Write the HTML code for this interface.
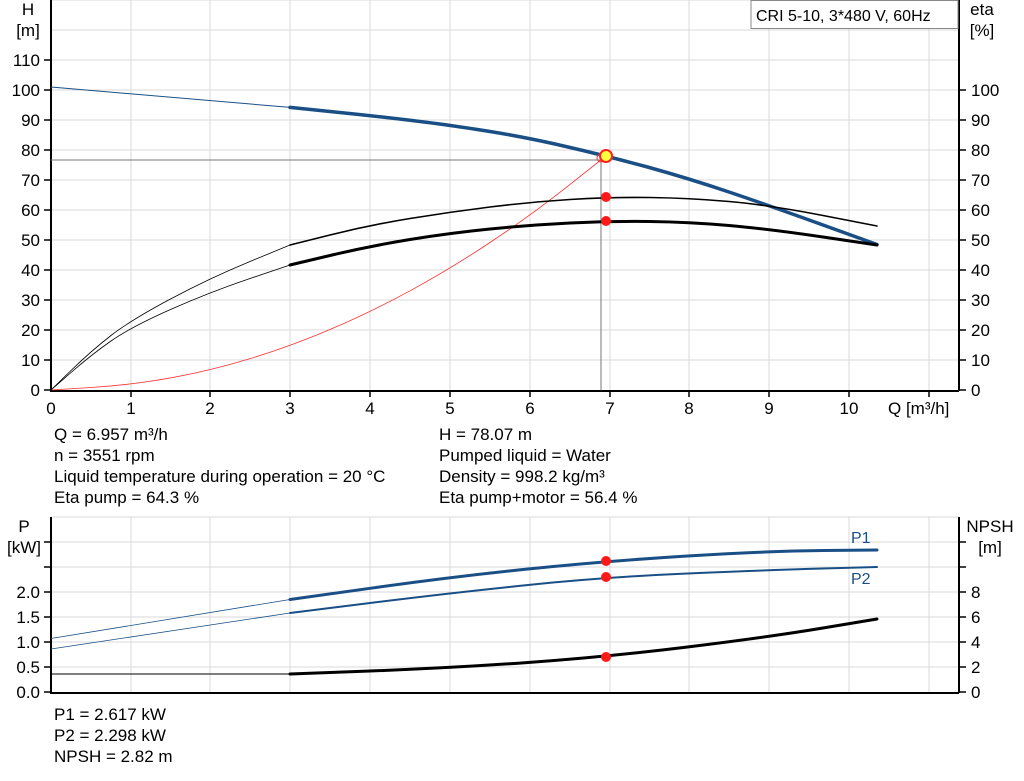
<!DOCTYPE html>
<html><head><style>
body{margin:0;background:#fff;}
svg{display:block;font-family:"Liberation Sans",sans-serif;}
</style></head><body>
<svg width="1024" height="781" viewBox="0 0 1024 781" xmlns="http://www.w3.org/2000/svg">
<g stroke="#d8d8d8" stroke-width="1" fill="none">
<path d="M131,0V390M210,0V390M290,0V390M370,0V390M450,0V390M530,0V390M610,0V390M689,0V390M769,0V390M849,0V390M929,0V390"/>
<path d="M51,0H959M51,30H959M51,60H959M51,90H959M51,120H959M51,150H959M51,180H959M51,210H959M51,240H959M51,270H959M51,300H959M51,330H959M51,360H959"/>
<path d="M131,517V692M210,517V692M290,517V692M370,517V692M450,517V692M530,517V692M610,517V692M689,517V692M769,517V692M849,517V692M929,517V692"/>
<path d="M51,517H959M51,542H959M51,567H959M51,592H959M51,617H959M51,642H959M51,667H959"/>
</g>
<g stroke="#000" stroke-width="2" fill="none">
<path d="M51,0V391H959M959,0V391"/>
<path d="M51,517V693H959M959,517V693"/>
</g>
<g stroke="#000" stroke-width="1.5">
<path d="M44,60H51M44,90H51M44,120H51M44,150H51M44,180H51M44,210H51M44,240H51M44,270H51M44,300H51M44,330H51M44,360H51M44,390H51"/>
<path d="M959,90H966M959,120H966M959,150H966M959,180H966M959,210H966M959,240H966M959,270H966M959,300H966M959,330H966M959,360H966M959,390H966"/>
<path d="M131,390V397M210,390V397M290,390V397M370,390V397M450,390V397M530,390V397M610,390V397M689,390V397M769,390V397M849,390V397M929,390V397"/>
<path d="M44,542H51M44,567H51M44,592H51M44,617H51M44,642H51M44,667H51M44,692H51"/>
<path d="M959,542H966M959,567H966M959,592H966M959,617H966M959,642H966M959,667H966M959,692H966"/>
</g>
<g font-size="17" fill="#000">
<g text-anchor="end">
<text x="40" y="66">110</text><text x="40" y="96">100</text><text x="40" y="126">90</text><text x="40" y="156">80</text><text x="40" y="186">70</text><text x="40" y="216">60</text><text x="40" y="246">50</text><text x="40" y="276">40</text><text x="40" y="306">30</text><text x="40" y="336">20</text><text x="40" y="366">10</text><text x="40" y="396">0</text>
<text x="40" y="598">2.0</text><text x="40" y="623">1.5</text><text x="40" y="648">1.0</text><text x="40" y="673">0.5</text><text x="40" y="698">0.0</text>
</g>
<g text-anchor="start">
<text x="971" y="96">100</text><text x="971" y="126">90</text><text x="971" y="156">80</text><text x="971" y="186">70</text><text x="971" y="216">60</text><text x="971" y="246">50</text><text x="971" y="276">40</text><text x="971" y="306">30</text><text x="971" y="336">20</text><text x="971" y="366">10</text><text x="971" y="396">0</text>
<text x="971" y="598">8</text><text x="971" y="623">6</text><text x="971" y="648">4</text><text x="971" y="673">2</text><text x="971" y="698">0</text>
</g>
<g text-anchor="middle">
<text x="51" y="414">0</text><text x="131" y="414">1</text><text x="210" y="414">2</text><text x="290" y="414">3</text><text x="370" y="414">4</text><text x="450" y="414">5</text><text x="530" y="414">6</text><text x="610" y="414">7</text><text x="689" y="414">8</text><text x="769" y="414">9</text><text x="849" y="414">10</text>
<text x="28" y="15">H</text><text x="28" y="36">[m]</text>
<text x="982" y="15">eta</text><text x="982" y="36">[%]</text>
<text x="24" y="532">P</text><text x="24" y="553">[kW]</text>
<text x="990" y="532">NPSH</text><text x="990" y="553">[m]</text>
</g>
<text x="888" y="414">Q [m³/h]</text>
<text x="851" y="543" fill="#1a4f86" font-size="16">P1</text>
<text x="851" y="584" fill="#1a4f86" font-size="16">P2</text>
<text x="54" y="440">Q = 6.957 m³/h</text>
<text x="54" y="461">n = 3551 rpm</text>
<text x="54" y="482">Liquid temperature during operation = 20 °C</text>
<text x="54" y="503">Eta pump = 64.3 %</text>
<text x="439" y="440">H = 78.07 m</text>
<text x="439" y="461">Pumped liquid = Water</text>
<text x="439" y="482">Density = 998.2 kg/m³</text>
<text x="439" y="503">Eta pump+motor = 56.4 %</text>
<text x="54" y="720">P1 = 2.617 kW</text>
<text x="54" y="741">P2 = 2.298 kW</text>
<text x="54" y="762">NPSH = 2.82 m</text>
</g>
<rect x="751" y="0.5" width="207" height="28" fill="#fff" stroke="#888"/>
<text x="756" y="21" font-size="16">CRI 5-10, 3*480 V, 60Hz</text>
<g fill="none" stroke-linejoin="round" stroke-linecap="round">
<path d="M51,160H601V390" stroke="#777" stroke-width="1"/>
<path stroke="#ff3030" stroke-width="0.8" d="M51,390 L91,387.5 Q131,385 171,377.8 Q211,370.6 250.5,358.5 Q290,346.5 330,329.5 Q370,312.6 410,290.8 Q450,269 490,242.5 Q530,216 567,186.8 L604,157.5"/>
<path stroke="#1a4f86" stroke-width="1" d="M51,87 L290,107.4"/>
<path stroke="#1a4f86" stroke-width="3.5" d="M290,107.4 L330,111.5 Q370,115.5 410,120.3 Q450,125 490,131.5 Q530,138 568,147 Q606,155.8 647.5,167 Q689,178.5 729,192 Q769,205.5 823,225 L877,244.5"/>
<path stroke="#000" stroke-width="0.8" d="M51,390 L71,370.5 Q91,351 111,335.5 Q131,320 170.5,299 Q210,278 250,261.5 L290,245"/>
<path stroke="#000" stroke-width="1.6" d="M290,245 L330,235 Q370,225 410,218.5 Q450,212 490,207 Q530,202 570,199.5 Q610,197 649.5,197.5 Q689,198 729,201.5 Q769,205 823,215.5 L877,226"/>
<path stroke="#000" stroke-width="0.8" d="M51,390 L71,372.5 Q91,355 111,341 Q131,327 170.5,309.5 Q210,292 250,278.5 L290,265"/>
<path stroke="#000" stroke-width="3" d="M290,265 L330,255.5 Q370,246 410,239.5 Q450,233 490,229 Q530,225 570,223 Q610,221 649.5,221.5 Q689,222 729,225.5 Q769,229 823,237 L877,245"/>
<path stroke="#1a4f86" stroke-width="0.8" d="M51,638.5 L290,599.5"/>
<path stroke="#1a4f86" stroke-width="3" d="M290,599.5 L370,588.3 Q450,577 528,569 Q606,561 687.5,556 Q769,551 823,550.5 L877,550"/>
<path stroke="#1a4f86" stroke-width="0.8" d="M51,649 L290,613"/>
<path stroke="#1a4f86" stroke-width="2" d="M290,613 L370,603 Q450,593 528,585 Q606,577 687.5,573.5 Q769,570 823,568.5 L877,567"/>
<path stroke="#000" stroke-width="1" d="M51,674 L290,674"/>
<path stroke="#000" stroke-width="3" d="M290,674 L370,671 Q450,668 528,662.5 Q606,657 687.5,647 Q769,637 823,628 L877,619"/>
</g>
<circle cx="601" cy="158" r="4" fill="none" stroke="#ff3030" stroke-width="1"/>
<circle cx="606" cy="156" r="6" fill="#ffff40" stroke="#ff2020" stroke-width="2"/>
<g fill="#ff1a1a">
<circle cx="606" cy="197" r="5"/><circle cx="606" cy="221" r="5"/>
<circle cx="606" cy="561" r="5"/><circle cx="606" cy="577" r="5"/><circle cx="606" cy="657" r="5"/>
</g>
</svg>
</body></html>
